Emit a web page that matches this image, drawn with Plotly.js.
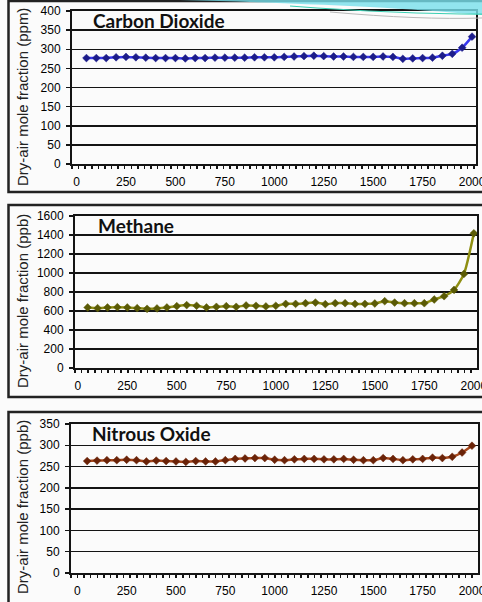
<!DOCTYPE html>
<html>
<head>
<meta charset="utf-8">
<script src="https://cdn.plot.ly/plotly-3.0.1.min.js"></script>
<style>
  html, body { margin: 0; padding: 0; background: #fbfbfb; }
  #chart { width: 482px; height: 602px; }
</style>
</head>
<body>
<div id="chart"></div>
<script>
// Years (x values) shared by the three gas records
const years = [50, 100, 150, 200, 250, 300, 350, 400, 450, 500,
               550, 600, 650, 700, 750, 800, 850, 900, 950, 1000,
               1050, 1100, 1150, 1200, 1250, 1300, 1350, 1400, 1450, 1500,
               1550, 1600, 1650, 1700, 1750, 1800, 1850, 1900, 1950, 2000];

// Carbon dioxide (ppm)
const co2 = [277, 277, 277, 279, 280, 279, 278, 277, 277, 277,
             276, 277, 277, 278, 278, 278, 278, 279, 279, 279,
             280, 281, 282, 283, 282, 281, 281, 280, 280, 280,
             281, 280, 275, 276, 277, 278, 283, 288, 304, 333];

// Methane (ppb)
const ch4 = [637, 630, 637, 640, 637, 630, 623, 627, 637, 651,
             662, 655, 637, 644, 651, 644, 658, 655, 648, 655,
             675, 675, 682, 689, 672, 682, 682, 675, 675, 679,
             703, 689, 682, 682, 682, 721, 756, 822, 990, 1418];

// Nitrous oxide (ppb)
const n2o = [263, 264, 265, 265, 266, 265, 262, 264, 263, 262,
             261, 263, 262, 262, 265, 268, 269, 270, 270, 266,
             265, 267, 268, 268, 267, 267, 268, 266, 265, 265,
             270, 268, 265, 267, 268, 271, 270, 273, 283, 299];

const panelTitles = ['Carbon Dioxide', 'Methane', 'Nitrous Oxide'];
const yTitles = ['Dry-air mole fraction (ppm)', 'Dry-air mole fraction (ppb)', 'Dry-air mole fraction (ppb)'];
const xTickVals = [0, 250, 500, 750, 1000, 1250, 1500, 1750, 2000];

const W = 482, H = 602;
const fx = x => x / W;
const fy = y => 1 - y / H;

// Pixel geometry of each panel
const panels = [
  { series: co2, line: '#3838f0', marker: '#1c1c8a', yMax: 400, yStep: 50,
    left: 72, right: 476, top: 11, bottom: 164, xr: [-23, 2020],
    frame: [1, 192], titleY: 21, titleX: 91, yTitleY: 97 },
  { series: ch4, line: '#8f8f12', marker: '#5a5a05', yMax: 1600, yStep: 200,
    left: 75, right: 477, top: 216, bottom: 368, xr: [-14, 2016],
    frame: [205, 397], titleY: 225, titleX: 96, yTitleY: 301 },
  { series: n2o, line: '#a8481c', marker: '#6a2308', yMax: 350, yStep: 50,
    left: 71, right: 477.5, top: 424, bottom: 573, xr: [-32, 2028],
    frame: [412, 615], titleY: 433, titleX: 90, yTitleY: 507 }
];

const tickFont = { family: 'Liberation Sans, Arial, sans-serif', size: 12, color: '#000' };
const dark = '#141414';

const data = [];
const layout = {
  width: W, height: H,
  margin: { l: 0, r: 0, t: 0, b: 0 },
  paper_bgcolor: '#fbfbfb',
  plot_bgcolor: 'rgba(0,0,0,0)',
  showlegend: false,
  annotations: [],
  shapes: []
};

panels.forEach((p, i) => {
  const n = i === 0 ? '' : String(i + 1);
  data.push({
    x: years, y: p.series,
    xaxis: 'x' + n, yaxis: 'y' + n,
    type: 'scatter', mode: 'lines+markers',
    line: { color: p.line, width: 2.5, shape: 'spline', smoothing: 0.6 },
    marker: { symbol: 'diamond', size: 6, color: p.marker, line: { color: p.marker, width: 0.5 } },
    hoverinfo: 'x+y'
  });

  layout['xaxis' + n] = {
    domain: [fx(p.left), fx(p.right)],
    anchor: 'y' + n,
    range: p.xr,
    tickmode: 'array', tickvals: xTickVals,
    ticks: '', showgrid: false, zeroline: false,
    showline: true, linecolor: dark, linewidth: 2, mirror: true,
    tickfont: tickFont, ticklabelstandoff: 6, ticklabeloverflow: 'allow',
    minor: { ticks: 'outside', ticklen: 3, tickwidth: 1.5, tickcolor: dark,
             dtick: 2000 / 60, tick0: p.xr[0], showgrid: false }
  };
  layout['yaxis' + n] = {
    domain: [fy(p.bottom), fy(p.top)],
    anchor: 'x' + n,
    range: [0, p.yMax], dtick: p.yStep, tick0: 0,
    ticks: 'outside', ticklen: 4, tickwidth: 1.5, tickcolor: dark,
    showgrid: true, gridcolor: dark, gridwidth: 1.5,
    zeroline: false,
    showline: true, linecolor: dark, linewidth: 2, mirror: true,
    tickfont: tickFont, ticklabelstandoff: 3
  };

  // Panel frame
  layout.shapes.push({
    type: 'rect', xref: 'paper', yref: 'paper', layer: 'below',
    x0: fx(8.5), x1: fx(492), y0: fy(p.frame[1]), y1: fy(p.frame[0]),
    line: { color: '#222', width: 2.5 }, fillcolor: 'rgba(0,0,0,0)'
  });

  // Gas name inside the plot area
  layout.annotations.push({
    text: '<b>' + panelTitles[i] + '</b>',
    xref: 'paper', yref: 'paper', x: fx(p.titleX), y: fy(p.titleY),
    xanchor: 'left', yanchor: 'middle', showarrow: false,
    font: { family: 'Lato, sans-serif', size: 19, color: '#111' }
  });

  // Vertical axis title
  layout.annotations.push({
    text: yTitles[i],
    xref: 'paper', yref: 'paper', x: fx(22), y: fy(p.yTitleY),
    xanchor: 'center', yanchor: 'middle', textangle: -90, showarrow: false,
    font: { family: 'Liberation Sans, Arial, sans-serif', size: 15, color: '#222' }
  });
});

// Decorative swoosh in the top-right corner of the slide
const pt = (x, y) => fx(x).toFixed(4) + ',' + fy(y).toFixed(4);
layout.shapes.push({
  type: 'path', xref: 'paper', yref: 'paper', layer: 'above',
  path: 'M ' + pt(180, 0) + ' Q ' + pt(380, 5) + ' ' + pt(482, 15) + ' L ' + pt(482, 0) + ' Z',
  fillcolor: 'rgba(120,224,235,0.8)', line: { width: 0 }
});
layout.shapes.push({
  type: 'path', xref: 'paper', yref: 'paper', layer: 'above',
  path: 'M ' + pt(290, 6) + ' Q ' + pt(400, 14) + ' ' + pt(482, 14),
  line: { color: '#3cd0b4', width: 1.2 }
});
layout.shapes.push({
  type: 'path', xref: 'paper', yref: 'paper', layer: 'above',
  path: 'M ' + pt(330, 12) + ' Q ' + pt(420, 20) + ' ' + pt(482, 18),
  line: { color: '#b8b8b8', width: 1 }
});

Plotly.newPlot('chart', data, layout, { staticPlot: true });
</script>
</body>
</html>
